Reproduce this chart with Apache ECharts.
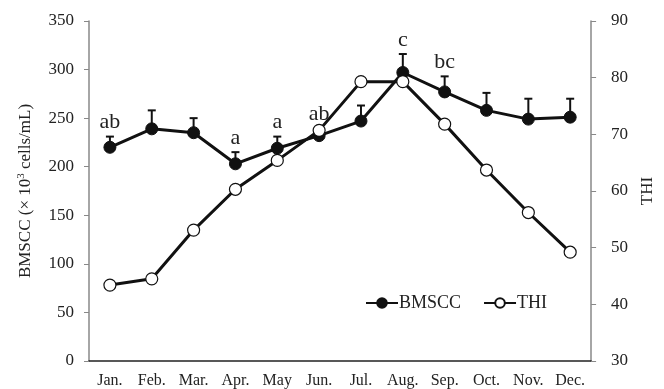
<!DOCTYPE html>
<html><head><meta charset="utf-8">
<script src="https://cdn.jsdelivr.net/npm/echarts@6/dist/echarts.min.js"></script>
<style>html,body{margin:0;padding:0;background:#fff}#c{width:664px;height:389px}</style>
</head><body><div id="c"></div>
<script>
const months = ['Jan.','Feb.','Mar.','Apr.','May','Jun.','Jul.','Aug.','Sep.','Oct.','Nov.','Dec.'];
const bmscc = [220, 239, 235, 203, 219, 232, 247, 297, 277, 258, 249, 251];
const bmsccErrTop = [231, 258, 250, 215, 231, 240, 263, 316, 293, 276, 270, 270];
const sigLabels = ['ab', '', '', 'a', 'a', 'ab', '', 'c', 'bc', '', '', ''];
const thi = [43.4, 44.5, 53.1, 60.3, 65.4, 70.7, 79.3, 79.3, 71.8, 63.7, 56.2, 49.2];
const leftTicks = {min: 0, max: 350, interval: 50};
const rightTicks = {min: 30, max: 90, interval: 10};

const FONT = 'Liberation Serif';
const chart = echarts.init(document.getElementById('c'), null, {renderer: 'canvas'});
const errData = bmscc.map((v, i) => [i, v, bmsccErrTop[i], sigLabels[i]]);
chart.setOption({
  animation: false,
  backgroundColor: '#fff',
  grid: {left: 89, right: 65, top: 21, bottom: 28},
  legend: {
    left: 360, top: 289, itemWidth: 32, itemHeight: 12, itemGap: 22,
    textStyle: {fontFamily: FONT, fontSize: 18, color: '#222', padding: [0, 0, 0, -4]},
    data: ['BMSCC', 'THI']
  },
  xAxis: {
    type: 'category', data: months, boundaryGap: true,
    axisLine: {lineStyle: {color: '#222', width: 1.5}},
    axisTick: {show: false},
    axisLabel: {fontFamily: FONT, fontSize: 16, color: '#222', margin: 12, interval: 0}
  },
  yAxis: [{
    type: 'value', min: leftTicks.min, max: leftTicks.max, interval: leftTicks.interval,
    name: '{t|BMSCC (× 10}{s|3}{t| cells/mL)}', nameLocation: 'middle', nameGap: 54, nameRotate: 90,
    nameTextStyle: {rich: {t: {fontFamily: FONT, fontSize: 17, color: '#222'}, s: {fontFamily: FONT, fontSize: 11, color: '#222', verticalAlign: 'bottom', padding: [0, 0, 8, 0]}}},
    axisLine: {show: true, lineStyle: {color: '#888', width: 1.5}},
    axisTick: {show: true, length: 5, lineStyle: {color: '#888'}},
    splitLine: {show: false},
    axisLabel: {fontFamily: FONT, fontSize: 17, color: '#222', margin: 15}
  }, {
    type: 'value', min: rightTicks.min, max: rightTicks.max, interval: rightTicks.interval,
    name: 'THI', nameLocation: 'middle', nameGap: 44, nameRotate: 90,
    nameTextStyle: {fontFamily: FONT, fontSize: 17, color: '#222'},
    axisLine: {show: true, lineStyle: {color: '#888', width: 1.5}},
    axisTick: {show: true, length: 5, lineStyle: {color: '#888'}},
    splitLine: {show: false},
    axisLabel: {fontFamily: FONT, fontSize: 17, color: '#222', margin: 20}
  }],
  series: [{
    type: 'custom', name: 'err', yAxisIndex: 0, z: 1, silent: true,
    data: errData,
    renderItem: function (params, api) {
      const i = api.value(0);
      const p0 = api.coord([i, api.value(1)]);
      const p1 = api.coord([i, api.value(2)]);
      const lab = sigLabels[i];
      const children = [
        {type: 'line', shape: {x1: p0[0], y1: p0[1], x2: p1[0], y2: p1[1]}, style: {stroke: '#111', lineWidth: 2}},
        {type: 'line', shape: {x1: p1[0] - 4, y1: p1[1], x2: p1[0] + 4, y2: p1[1]}, style: {stroke: '#111', lineWidth: 2}}
      ];
      if (lab) children.push({type: 'text', x: p1[0], y: p1[1] - 3, style: {text: lab, fontFamily: FONT, fontSize: 22, fill: '#222', align: 'center', verticalAlign: 'bottom'}});
      return {type: 'group', children: children};
    }
  }, {
    name: 'BMSCC', type: 'line', yAxisIndex: 0, data: bmscc, z: 2,
    symbol: 'circle', symbolSize: 12,
    lineStyle: {color: '#111', width: 3},
    itemStyle: {color: '#111', borderColor: '#111', borderWidth: 1}
  }, {
    name: 'THI', type: 'line', yAxisIndex: 1, data: thi, z: 3,
    symbol: 'circle', symbolSize: 12,
    lineStyle: {color: '#111', width: 3},
    itemStyle: {color: '#fff', borderColor: '#111', borderWidth: 1.2}
  }]
});
</script></body></html>
